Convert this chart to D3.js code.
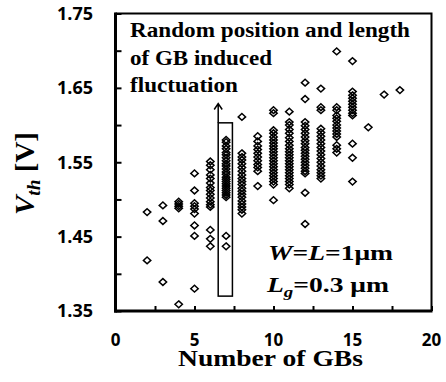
<!DOCTYPE html>
<html>
<head>
<meta charset="utf-8">
<script src="https://cdn.jsdelivr.net/npm/d3@7"></script>
<style>
  html, body { margin: 0; padding: 0; background: #fff; }
  svg { display: block; }
</style>
</head>
<body>
<svg id="chart" width="446" height="382"></svg>
<script>
// Number of grain boundaries in the channel
const gbCounts = [2, 3, 4, 5, 6, 7, 8, 9, 10, 11, 12, 13, 14, 15, 16, 17, 18];

// Threshold voltage samples (V) for each GB count
const vthSamples = [
  [1.483, 1.418],
  [1.492, 1.471, 1.389],
  [1.497, 1.494, 1.491, 1.488, 1.359],
  [1.535, 1.512, 1.495, 1.491, 1.487, 1.481, 1.465, 1.451, 1.380],
  [1.551, 1.546, 1.540, 1.533, 1.528, 1.522, 1.516, 1.512, 1.507, 1.502, 1.497, 1.493, 1.490, 1.459, 1.447, 1.437],
  [1.580, 1.577, 1.572, 1.568, 1.563, 1.560, 1.556, 1.552, 1.548, 1.545, 1.541, 1.537, 1.534, 1.530, 1.527, 1.524, 1.521, 1.518, 1.515, 1.512, 1.509, 1.506, 1.503, 1.451, 1.437],
  [1.611, 1.562, 1.557, 1.553, 1.548, 1.543, 1.538, 1.533, 1.528, 1.524, 1.520, 1.515, 1.511, 1.507, 1.503, 1.498, 1.494, 1.490, 1.486, 1.481],
  [1.585, 1.578, 1.572, 1.567, 1.562, 1.557, 1.552, 1.547, 1.543, 1.538, 1.518],
  [1.620, 1.616, 1.593, 1.589, 1.584, 1.580, 1.576, 1.572, 1.568, 1.564, 1.560, 1.556, 1.552, 1.548, 1.544, 1.540, 1.536, 1.532, 1.528, 1.524, 1.520, 1.499],
  [1.618, 1.604, 1.600, 1.594, 1.589, 1.583, 1.578, 1.573, 1.568, 1.564, 1.560, 1.556, 1.552, 1.548, 1.544, 1.540, 1.536, 1.532, 1.528, 1.524, 1.520, 1.515],
  [1.657, 1.635, 1.604, 1.599, 1.594, 1.589, 1.584, 1.579, 1.575, 1.570, 1.566, 1.562, 1.558, 1.554, 1.550, 1.546, 1.542, 1.538, 1.535, 1.509, 1.467],
  [1.649, 1.624, 1.620, 1.595, 1.590, 1.585, 1.580, 1.575, 1.570, 1.565, 1.560, 1.555, 1.550, 1.545, 1.540, 1.536, 1.532, 1.528],
  [1.699, 1.624, 1.620, 1.613, 1.609, 1.605, 1.600, 1.596, 1.592, 1.588, 1.584, 1.573, 1.568, 1.563],
  [1.686, 1.645, 1.640, 1.636, 1.632, 1.628, 1.624, 1.620, 1.616, 1.613, 1.575, 1.556, 1.524],
  [1.597],
  [1.641],
  [1.647]
];

// Axis ticks
const xTickValues = [0, 2.5, 5, 7.5, 10, 12.5, 15, 17.5, 20];
const xTickLabels = [0, 5, 10, 15, 20];
const yTickValues = [1.35, 1.40, 1.45, 1.50, 1.55, 1.60, 1.65, 1.70, 1.75];
const yTickLabels = [1.35, 1.45, 1.55, 1.65, 1.75];

// Highlighted spread at 7 GBs (GB count range, Vth range) and arrow tip
const boxGb = [6.5, 7.4];
const boxVth = [1.37, 1.603];
const arrowTipVth = 1.629;

const svg = d3.select("#chart");
const plot = { left: 115.5, right: 431.5, top: 13.5, bottom: 311 };

const x = d3.scaleLinear().domain([0, 20]).range([plot.left, plot.right]);
const y = d3.scaleLinear().domain([1.35, 1.75]).range([plot.bottom, plot.top]);

const tickFont = "'Open Sans', 'DejaVu Sans', sans-serif";
const serif = "'Liberation Serif', 'DejaVu Serif', serif";

// Frame (top and right edges)
svg.append("path")
  .attr("d", `M${plot.left},${plot.top}H${plot.right}V${plot.bottom}`)
  .attr("fill", "none").attr("stroke", "#000").attr("stroke-width", 2);

// Y axis with inward ticks
const yAxis = svg.append("g").attr("transform", `translate(${plot.left},0)`)
  .call(d3.axisRight(y).tickValues(yTickValues).tickSize(6).tickFormat(""));
yAxis.select(".domain").attr("stroke-width", 3).attr("d", `M0,${plot.top - 1}V${plot.bottom + 1.5}`);
yAxis.selectAll(".tick line").attr("stroke-width", 2);

// X axis with inward ticks
const xAxis = svg.append("g").attr("transform", `translate(0,${plot.bottom})`)
  .call(d3.axisTop(x).tickValues(xTickValues).tickSize(5).tickFormat(""));
xAxis.select(".domain").attr("stroke-width", 3).attr("d", `M${plot.left - 1.5},0H${plot.right + 1}`);
xAxis.selectAll(".tick line").attr("stroke-width", 2);

// Tick labels
svg.append("g").selectAll("text").data(yTickLabels).join("text")
  .attr("x", 93).attr("y", d => y(d)).attr("dy", "0.36em")
  .attr("text-anchor", "end")
  .attr("font-family", tickFont).attr("font-weight", 700).attr("font-size", 18)
  .text(d => d3.format(".2f")(d));

svg.append("g").selectAll("text").data(xTickLabels).join("text")
  .attr("x", d => x(d)).attr("y", 346)
  .attr("text-anchor", "middle")
  .attr("font-family", tickFont).attr("font-weight", 700).attr("font-size", 17)
  .text(d => d);

// Scatter points: open diamonds
const diamond = {
  draw(ctx, size) {
    const w = 3.7, h = 3.4;
    ctx.moveTo(0, -h); ctx.lineTo(w, 0); ctx.lineTo(0, h); ctx.lineTo(-w, 0); ctx.closePath();
  }
};
const points = gbCounts.flatMap((n, i) => vthSamples[i].map(v => ({ n, v })));
svg.append("g").selectAll("path").data(points).join("path")
  .attr("d", d3.symbol().type(diamond))
  .attr("transform", d => `translate(${x(d.n)},${y(d.v)})`)
  .attr("fill", "none").attr("stroke", "#000").attr("stroke-width", 1.5);

// Box around the 7-GB spread and arrow
svg.append("rect")
  .attr("x", x(boxGb[0])).attr("y", y(boxVth[1]))
  .attr("width", x(boxGb[1]) - x(boxGb[0])).attr("height", y(boxVth[0]) - y(boxVth[1]))
  .attr("fill", "none").attr("stroke", "#000").attr("stroke-width", 1.5);
const ax = x(boxGb[0]), at = y(arrowTipVth);
svg.append("path")
  .attr("d", `M${ax},${y(boxVth[1])}V${at}M${ax - 4},${at + 6}L${ax},${at}L${ax + 4},${at + 6}`)
  .attr("fill", "none").attr("stroke", "#000").attr("stroke-width", 1.5);

// Annotation text
const noteLines = [
  { t: "Random position and length", y: 37, len: 280 },
  { t: "of GB induced", y: 64.5, len: 142 },
  { t: "fluctuation", y: 92, len: 108 }
];
svg.append("g").selectAll("text").data(noteLines).join("text")
  .attr("x", 130).attr("y", d => d.y)
  .attr("textLength", d => d.len).attr("lengthAdjust", "spacingAndGlyphs")
  .attr("font-family", serif).attr("font-weight", 700).attr("font-size", 21)
  .text(d => d.t);

// Device dimensions
const dim1 = svg.append("text").attr("x", 268).attr("y", 259.5)
  .attr("textLength", 125).attr("lengthAdjust", "spacingAndGlyphs")
  .attr("font-family", serif).attr("font-weight", 700).attr("font-size", 22);
dim1.append("tspan").attr("font-style", "italic").text("W");
dim1.append("tspan").text("=");
dim1.append("tspan").attr("font-style", "italic").text("L");
dim1.append("tspan").text("=1μm");

const dim2 = svg.append("text").attr("x", 267).attr("y", 291.5)
  .attr("textLength", 122).attr("lengthAdjust", "spacingAndGlyphs")
  .attr("font-family", serif).attr("font-weight", 700).attr("font-size", 22);
dim2.append("tspan").attr("font-style", "italic").text("L");
dim2.append("tspan").attr("font-style", "italic").attr("font-size", 15).attr("dy", 5).text("g");
dim2.append("tspan").attr("dy", -5).text("=0.3 μm");

// Axis titles
svg.append("text").attr("x", 178).attr("y", 366)
  .attr("textLength", 185).attr("lengthAdjust", "spacingAndGlyphs")
  .attr("font-family", serif).attr("font-weight", 700).attr("font-size", 24)
  .text("Number of GBs");

const yTitle = svg.append("text")
  .attr("transform", "translate(34,215) rotate(-90)")
  .attr("textLength", 83).attr("lengthAdjust", "spacingAndGlyphs")
  .attr("font-family", serif).attr("font-weight", 700).attr("font-size", 27);
yTitle.append("tspan").attr("font-style", "italic").text("V");
yTitle.append("tspan").attr("font-style", "italic").attr("font-size", 18).attr("dy", 6).text("th");
yTitle.append("tspan").attr("dy", -6).text(" [V]");
</script>
</body>
</html>
